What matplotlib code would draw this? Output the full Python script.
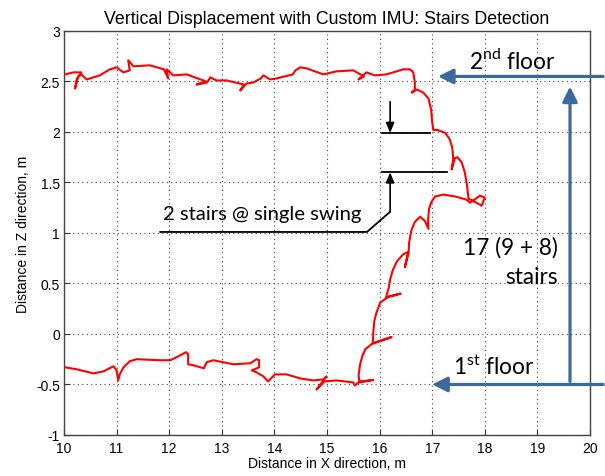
import matplotlib
matplotlib.use("Agg")
import matplotlib.pyplot as plt

# trajectory: 1st floor (left -> right), stairs, 2nd floor (right -> left)
x_pos = [
    10.02, 10.24, 10.56, 10.75, 10.94, 11.00, 11.03, 11.06, 11.13, 11.25, 11.38, 11.83,
    12.02, 12.14, 12.32, 12.36, 12.36, 12.46, 12.66, 12.71, 12.84, 13.03, 13.22, 13.54,
    13.66, 13.71, 13.71, 13.57, 13.66, 13.79, 13.88, 14.01, 14.23, 14.49, 14.74, 14.93,
    14.99, 14.80, 14.95, 15.18, 15.50, 15.53, 15.62, 15.88, 15.62, 15.60,
    # climb, first flight
    15.63, 15.67, 15.73, 15.85, 16.23, 15.87,
    15.88, 15.90, 15.94, 16.01, 16.17, 16.40, 16.12,
    16.17, 16.20, 16.25, 16.33, 16.45, 16.54, 16.48, 16.55,
    16.56, 16.60, 16.67, 16.77, 16.86, 16.93, 16.92,
    16.94, 16.98, 17.05, 17.21,
    # landing
    17.45, 17.65, 17.72, 17.91, 18.00, 17.94, 17.84, 17.69,
    # second flight
    17.66, 17.62, 17.56, 17.48, 17.43, 17.37, 17.40,
    17.38, 17.33, 17.25, 17.10, 17.02,
    17.00, 16.98, 16.93, 16.83, 16.71, 16.61, 16.67,
    16.67, 16.64, 16.58,
    # 2nd floor
    16.45, 16.13, 15.91, 15.75, 15.60, 15.70, 15.50, 15.18, 14.93, 14.61, 14.49, 14.40,
    14.35, 14.04, 13.92, 13.79, 13.74, 13.60, 13.47, 13.35, 13.42, 13.09, 12.90, 12.78,
    12.72, 12.52, 12.70, 12.33, 12.08, 11.95, 11.98, 11.90, 11.63, 11.32, 11.22, 11.25,
    11.13, 11.00, 10.87, 10.68, 10.43, 10.33, 10.27, 10.21, 10.24, 10.33, 10.18, 10.02,
]
z_pos = [
    -0.33, -0.35, -0.39, -0.37, -0.32, -0.36, -0.46, -0.40, -0.33, -0.27, -0.25, -0.26,
    -0.26, -0.23, -0.18, -0.20, -0.30, -0.31, -0.34, -0.28, -0.26, -0.28, -0.30, -0.29,
    -0.25, -0.26, -0.33, -0.36, -0.38, -0.42, -0.47, -0.40, -0.40, -0.44, -0.46, -0.45,
    -0.42, -0.55, -0.47, -0.46, -0.48, -0.51, -0.47, -0.455, -0.48, -0.41,
    -0.30, -0.22, -0.15, -0.10, -0.03, -0.09,
    0.02, 0.13, 0.21, 0.31, 0.37, 0.40, 0.36,
    0.45, 0.54, 0.63, 0.72, 0.79, 0.81, 0.66, 0.80,
    0.90, 1.02, 1.11, 1.16, 1.12, 1.04, 1.12,
    1.24, 1.30, 1.36, 1.38,
    1.36, 1.33, 1.30, 1.37, 1.35, 1.27, 1.30, 1.34,
    1.48, 1.60, 1.70, 1.75, 1.74, 1.63, 1.74,
    1.85, 1.93, 1.99, 2.02, 2.02,
    2.10, 2.22, 2.33, 2.39, 2.42, 2.39, 2.42,
    2.49, 2.59, 2.62,
    2.62, 2.57, 2.56, 2.59, 2.52, 2.55, 2.61, 2.60, 2.57, 2.63, 2.64, 2.61,
    2.57, 2.53, 2.52, 2.56, 2.53, 2.49, 2.48, 2.41, 2.47, 2.51, 2.51, 2.54,
    2.49, 2.47, 2.50, 2.57, 2.56, 2.62, 2.53, 2.62, 2.66, 2.65, 2.71, 2.61,
    2.59, 2.64, 2.62, 2.56, 2.52, 2.57, 2.55, 2.43, 2.52, 2.59, 2.59, 2.57,
]

x_ticks = list(range(10, 21))
z_ticks = [-1, -0.5, 0, 0.5, 1, 1.5, 2, 2.5, 3]
z_tick_labels = ["-1", "-0.5", "0", "0.5", "1", "1.5", "2", "2.5", "3"]

BLUE = "#3d6a9e"
NOTE_FONT = "Lato"

plt.rcParams["font.family"] = ["Liberation Sans", "DejaVu Sans"]
plt.rcParams["mathtext.fontset"] = "custom"
plt.rcParams["mathtext.rm"] = NOTE_FONT

fig = plt.figure(figsize=(6.05, 4.77), dpi=100)
ax = fig.add_axes([0.1058, 0.086, 0.8694, 0.847])

ax.plot(x_pos, z_pos, color="red", lw=1.5, zorder=3)

ax.set_xlim(10, 20)
ax.set_ylim(-1, 3)
ax.set_xticks(x_ticks)
ax.set_yticks(z_ticks)
ax.set_yticklabels(z_tick_labels)
ax.tick_params(direction="in", length=4, labelsize=10, color="#333333")
ax.tick_params(axis="x", pad=4)
ax.tick_params(axis="y", pad=3)
ax.grid(True, linestyle=(0, (1, 3)), color="#444444", lw=0.8)
for sp in ax.spines.values():
    sp.set_color("#444444")
    sp.set_linewidth(1.0)

ax.set_title("Vertical Displacement with Custom IMU: Stairs Detection", fontsize=12.8, pad=6)
ax.set_xlabel("Distance in X direction, m", fontsize=10, labelpad=1)
ax.set_ylabel("Distance in Z direction, m", fontsize=10, labelpad=4)

# floor / stairs annotations (blue)
blue_arrow = dict(arrowstyle="-|>,head_length=0.9,head_width=0.45", color=BLUE, lw=2.3,
                  shrinkA=0, shrinkB=0)
ax.annotate("", xy=(17.11, 2.55), xytext=(20.25, 2.55), arrowprops=blue_arrow,
            annotation_clip=False)
ax.annotate("", xy=(19.62, 2.45), xytext=(19.62, -0.47), arrowprops=blue_arrow,
            annotation_clip=False)
ax.annotate("", xy=(17.0, -0.50), xytext=(20.25, -0.50), arrowprops=blue_arrow,
            annotation_clip=False)

ax.text(18.52, 2.72, r"2$^{\mathrm{nd}}$ floor", family=NOTE_FONT, fontsize=16.3,
        ha="center", va="center")
ax.text(18.17, -0.32, r"1$^{\mathrm{st}}$ floor", family=NOTE_FONT, fontsize=16.3,
        ha="center", va="center")
ax.text(19.39, 0.86, "17 (9 + 8)", family=NOTE_FONT, fontsize=16.3, ha="right", va="center")
ax.text(19.39, 0.57, "stairs", family=NOTE_FONT, fontsize=16.3, ha="right", va="center")

# single swing annotation (black)
black_arrow = dict(arrowstyle="-|>,head_length=0.6,head_width=0.25", color="black", lw=1.2,
                   shrinkA=0, shrinkB=0)
ax.annotate("", xy=(16.20, 1.99), xytext=(16.20, 2.30), arrowprops=black_arrow)
ax.annotate("", xy=(16.20, 1.60), xytext=(16.20, 1.21), arrowprops=black_arrow)
ax.plot([16.05, 16.96], [1.99, 1.99], color="black", lw=1.3, zorder=4)
ax.plot([16.05, 17.28], [1.60, 1.60], color="black", lw=1.3, zorder=4)
ax.plot([16.20, 15.76, 11.83], [1.21, 1.01, 1.01], color="black", lw=1.3, zorder=4)
ax.text(11.88, 1.19, "2 stairs @ single swing", family=NOTE_FONT, fontsize=14.6,
        ha="left", va="center")

fig.savefig("out.png", dpi=100)
